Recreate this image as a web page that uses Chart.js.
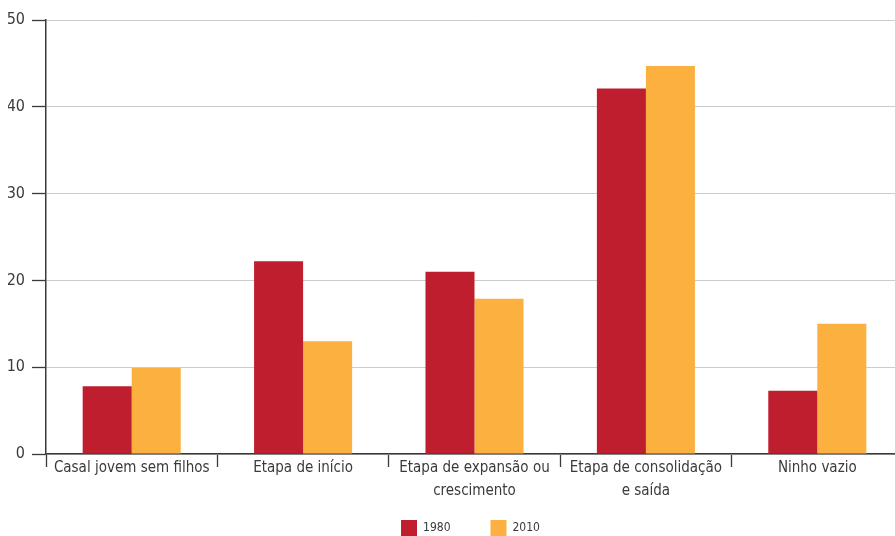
<!DOCTYPE html>
<html>
<head>
<meta charset="utf-8">
<script src="https://cdn.jsdelivr.net/npm/chart.js@4/dist/chart.umd.min.js"></script>
<style>
  html, body { margin: 0; padding: 0; background: #fff; }
  #wrap { width: 895px; height: 536px; overflow: hidden; position: relative; }
  #box { width: 903px; height: 548px; position: absolute; left: 0; top: 0; }
</style>
</head>
<body>
<div id="wrap"><div id="box"><canvas id="chart"></canvas></div></div>
<script>
const categories = [
    'Casal jovem sem filhos',
    'Etapa de início',
    ['Etapa de expansão ou', 'crescimento'],
    ['Etapa de consolidação', 'e saída'],
    'Ninho vazio'
];
const values1980 = [7.8, 22.2, 21.0, 42.1, 7.3];
const values2010 = [9.9, 13.0, 17.9, 44.7, 15.0];
const yTicks = [0, 10, 20, 30, 40, 50];

const fontFamily = "'DejaVu Sans Condensed', sans-serif";
const textColor = '#3a3a3a';
const axisColor = '#3a3a3a';

// sobe a legenda para ficar logo abaixo dos rótulos e a centra sob o gráfico
const legendLift = {
    id: 'legendLift',
    afterLayout(chart) {
        chart.legend.top -= 36;
        chart.legend.left += 30;
    }
};

let ctx = document.getElementById('chart').getContext('2d');

let chart = new Chart(ctx, {
    type: 'bar',
    data: {
        labels: categories,
        datasets: [
            { label: '1980', data: values1980, backgroundColor: '#BE1E2D', borderWidth: 0 },
            { label: '2010', data: values2010, backgroundColor: '#FBB040', borderWidth: 0 }
        ]
    },
    options: {
        responsive: true,
        maintainAspectRatio: false,
        animation: false,
        layout: { padding: { top: 20, left: 8, right: 0, bottom: 0 } },
        datasets: {
            bar: { categoryPercentage: 0.572, barPercentage: 1.0 }
        },
        plugins: {
            legend: {
                position: 'bottom',
                maxHeight: 32,
                labels: {
                    boxWidth: 16,
                    boxHeight: 16,
                    padding: 40,
                    color: textColor,
                    font: { family: fontFamily, size: 12 }
                }
            },
            tooltip: { enabled: false }
        },
        scales: {
            x: {
                grid: {
                    offset: true,
                    drawOnChartArea: false,
                    drawTicks: true,
                    tickLength: 13,
                    tickColor: axisColor,
                    tickWidth: 1.3
                },
                border: { color: axisColor, width: 1.5 },
                ticks: {
                    color: textColor,
                    padding: -10,
                    maxRotation: 0,
                    autoSkip: false,
                    font: { family: fontFamily, size: 15, lineHeight: 1.5 }
                },
                afterFit: function (scale) { scale.height = 62; }
            },
            y: {
                min: 0,
                max: 50,
                afterBuildTicks: function (scale) {
                    scale.ticks = yTicks.map(v => ({ value: v }));
                },
                grid: {
                    color: '#cccccc',
                    lineWidth: 1,
                    tickLength: 14,
                    tickColor: axisColor,
                    tickWidth: 1.3
                },
                border: { color: axisColor, width: 1.5 },
                ticks: {
                    color: textColor,
                    padding: 7,
                    font: { family: fontFamily, size: 16 }
                },
                afterFit: function (scale) { scale.width = 38; }
            }
        }
    },
    plugins: [legendLift]
});
</script>
</body>
</html>
